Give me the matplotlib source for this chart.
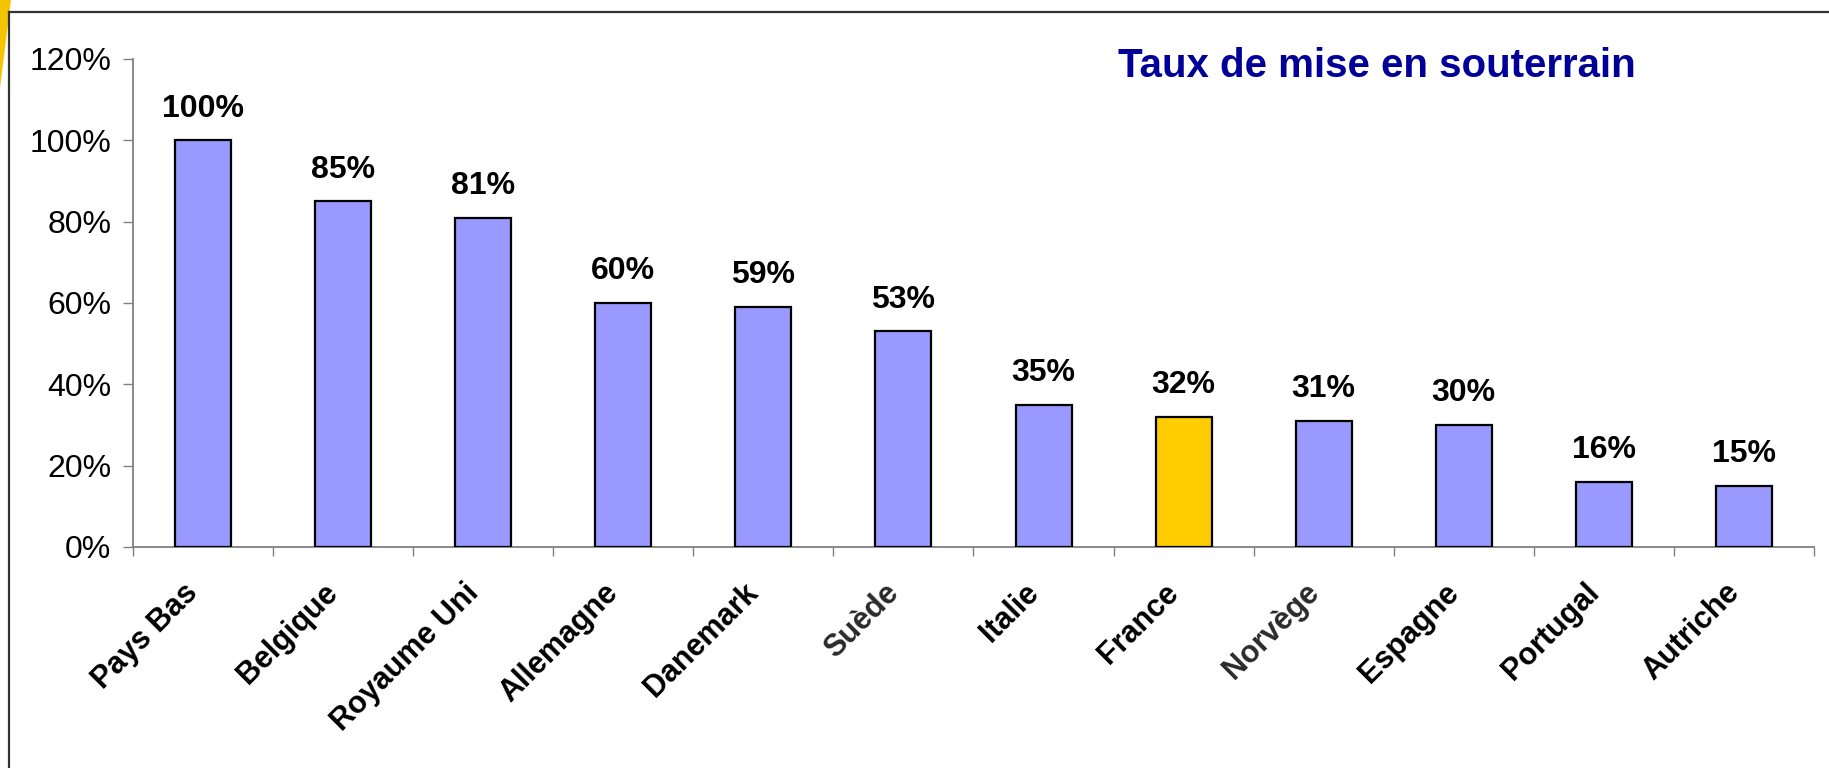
import matplotlib
matplotlib.use("Agg")
import matplotlib.pyplot as plt
from matplotlib.patches import Polygon
from matplotlib.lines import Line2D
from matplotlib.transforms import ScaledTranslation
import numpy as np

# donnees
pays = ["Pays Bas", "Belgique", "Royaume Uni", "Allemagne", "Danemark", "Suède",
        "Italie", "France", "Norvège", "Espagne", "Portugal", "Autriche"]
taux = [1.00, 0.85, 0.81, 0.60, 0.59, 0.53, 0.35, 0.32, 0.31, 0.30, 0.16, 0.15]
yticks = [0, 0.2, 0.4, 0.6, 0.8, 1.0, 1.2]
titre = "Taux de mise en souterrain"

plt.rcParams["font.family"] = ["Liberation Sans", "DejaVu Sans"]

fig = plt.figure(figsize=(18.29, 7.68), dpi=100)
ax = fig.add_axes([133 / 1829, 1 - 547 / 768, (1814 - 133) / 1829, (547 - 59) / 768])

x = np.arange(len(pays))
colors = ["#FFCC00" if p == "France" else "#9999FF" for p in pays]
ax.bar(x, taux, width=0.4, color=colors, edgecolor="black", linewidth=1.6, zorder=3)

for xi, v in zip(x, taux):
    ax.annotate(f"{v:.0%}", (xi, v), xytext=(0, 17), textcoords="offset points",
                ha="center", va="baseline", fontsize=23, fontweight="bold")

ax.set_xlim(-0.5, len(pays) - 0.5)
ax.set_ylim(0, 1.2)
ax.set_yticks(yticks)
ax.set_yticklabels([f"{t:.0%}" for t in yticks])
ax.tick_params(axis="y", direction="out", length=7.5, width=1, color="#808080",
               pad=8, labelsize=23)

ax.set_xticks(x)
ax.set_xticklabels(pays, rotation=45, ha="right", va="top", rotation_mode="anchor",
                   fontsize=22, fontweight="bold")
ax.tick_params(axis="x", which="major", length=0, pad=22)
ax.set_xticks(np.arange(-0.5, len(pays), 1), minor=True)
ax.tick_params(axis="x", which="minor", direction="out", length=6.5, width=1, color="#808080")
decal = ScaledTranslation(-20 / 100, 0, fig.dpi_scale_trans)
for lbl in ax.get_xticklabels():
    lbl.set_transform(lbl.get_transform() + decal)
    if lbl.get_text() in ("Suède", "Norvège"):
        lbl.set_color("#2a2a2a")

for s in ["top", "right"]:
    ax.spines[s].set_visible(False)
for s in ["left", "bottom"]:
    ax.spines[s].set_color("#808080")
    ax.spines[s].set_linewidth(1.3)

fig.text(1118 / 1829, 1 - 77 / 768, titre, ha="left", va="baseline", fontsize=29,
         fontweight="bold", color="#000099")

# cadre et coin jaune
fig.patches.append(Polygon([[0, 1], [11 / 1829, 1], [0, 1 - 88 / 768]], closed=True,
                           transform=fig.transFigure, facecolor="#F5C400", edgecolor="none"))
fig.add_artist(Line2D([9 / 1829, 9 / 1829], [0, 1 - 12 / 768], transform=fig.transFigure,
                      color="#333333", linewidth=1.6))
fig.add_artist(Line2D([9 / 1829, 1], [1 - 12 / 768, 1 - 12 / 768], transform=fig.transFigure,
                      color="#333333", linewidth=1.6))

fig.savefig("out.png", dpi=100)
